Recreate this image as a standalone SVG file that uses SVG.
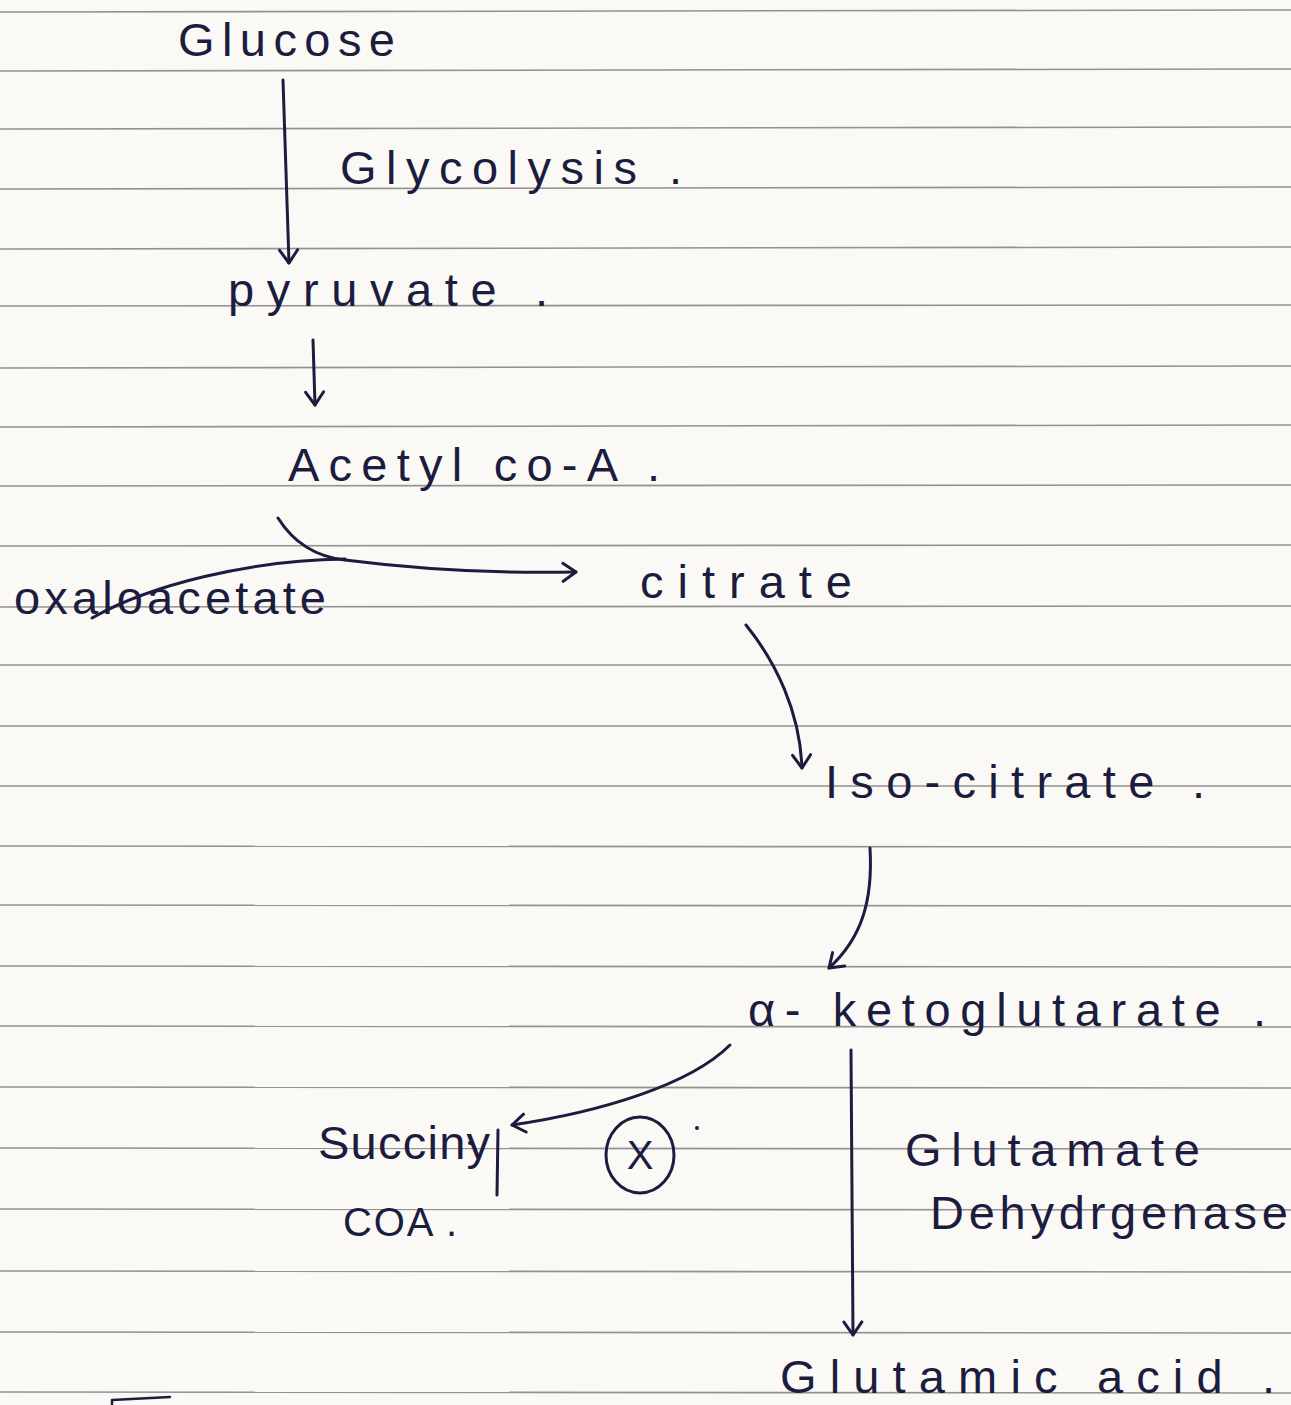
<svg xmlns="http://www.w3.org/2000/svg" width="1291" height="1405" viewBox="0 0 1291 1405">
<defs>
<style>
.paper{fill:#fbf9f6}
.rule{stroke:#6f6f6f;stroke-width:1.6;stroke-opacity:0.75}
.t{font-family:"Liberation Sans","DejaVu Sans",sans-serif;font-size:47px;fill:#1b1c3e}
.ink{fill:none;stroke:#1b1c3e;stroke-width:3;stroke-linecap:round;stroke-linejoin:round}
</style>
<marker id="ah" viewBox="-16 -12 20 24" refX="0" refY="0" markerWidth="20" markerHeight="24" markerUnits="userSpaceOnUse" orient="auto">
<path d="M-13,-9 L0,0 L-13,9" fill="none" stroke="#1b1c3e" stroke-width="3" stroke-linecap="round" stroke-linejoin="round"/>
</marker>
</defs>
<rect class="paper" x="0" y="0" width="1291" height="1405"/>
<g id="rules">
<line class="rule" x1="0" y1="12" x2="1291" y2="10"/>
<line class="rule" x1="0" y1="71" x2="1291" y2="69"/>
<line class="rule" x1="0" y1="129" x2="1291" y2="127"/>
<line class="rule" x1="0" y1="189" x2="1291" y2="187"/>
<line class="rule" x1="0" y1="249" x2="1291" y2="247"/>
<line class="rule" x1="0" y1="306" x2="1291" y2="305"/>
<line class="rule" x1="0" y1="368" x2="1291" y2="366"/>
<line class="rule" x1="0" y1="427" x2="1291" y2="425"/>
<line class="rule" x1="0" y1="486" x2="1291" y2="485"/>
<line class="rule" x1="0" y1="546" x2="1291" y2="545"/>
<line class="rule" x1="0" y1="607" x2="1291" y2="606"/>
<line class="rule" x1="0" y1="665" x2="1291" y2="665"/>
<line class="rule" x1="0" y1="726" x2="1291" y2="726"/>
<line class="rule" x1="0" y1="786" x2="1291" y2="786"/>
<line class="rule" x1="0" y1="846" x2="1291" y2="847"/>
<line class="rule" x1="0" y1="905" x2="1291" y2="906"/>
<line class="rule" x1="0" y1="966" x2="1291" y2="967"/>
<line class="rule" x1="0" y1="1026" x2="1291" y2="1027"/>
<line class="rule" x1="0" y1="1087" x2="1291" y2="1088"/>
<line class="rule" x1="0" y1="1148" x2="1291" y2="1149"/>
<line class="rule" x1="0" y1="1209" x2="1291" y2="1210"/>
<line class="rule" x1="0" y1="1271" x2="1291" y2="1272"/>
<line class="rule" x1="0" y1="1332" x2="1291" y2="1333"/>
<line class="rule" x1="0" y1="1392" x2="1291" y2="1393"/>
</g>
<g id="connectors">
<path class="ink" d="M283,80 L289,263" marker-end="url(#ah)"/>
<path class="ink" d="M313,340 L315,405" marker-end="url(#ah)"/>
<path class="ink" d="M278,518 C295,545 318,557 345,560 C400,567 480,574 576,572" marker-end="url(#ah)"/>
<path class="ink" d="M92,618 C150,585 250,560 345,559"/>
<path class="ink" d="M746,625 C776,662 800,712 802,768" marker-end="url(#ah)"/>
<path class="ink" d="M870,848 C873,900 862,938 829,968" marker-end="url(#ah)"/>
<path class="ink" d="M730,1045 C690,1085 600,1112 512,1125" marker-end="url(#ah)"/>
<path class="ink" d="M851,1050 L853,1335" marker-end="url(#ah)"/>
</g>
<g id="glucose"><text class="t" x="178" y="56" textLength="217" lengthAdjust="spacing">Glucose</text></g>
<g id="glycolysis"><text class="t" x="340" y="184" textLength="342" lengthAdjust="spacing">Glycolysis .</text></g>
<g id="pyruvate"><text class="t" x="228" y="306" textLength="320" lengthAdjust="spacing">pyruvate .</text></g>
<g id="acetyl-coa"><text class="t" x="288" y="481" textLength="372" lengthAdjust="spacing">Acetyl co-A .</text></g>
<g id="oxaloacetate"><text class="t" x="14" y="614" textLength="312" lengthAdjust="spacing">oxaloacetate</text></g>
<g id="citrate"><text class="t" x="640" y="598" textLength="212" lengthAdjust="spacing">citrate</text></g>
<g id="iso-citrate"><text class="t" x="825" y="798" textLength="380" lengthAdjust="spacing">Iso-citrate .</text></g>
<g id="alpha-ketoglutarate"><text class="t" x="748" y="1026" textLength="518" lengthAdjust="spacing">α- ketoglutarate .</text></g>
<g id="succinyl-coa">
<text class="t" x="318" y="1159" textLength="172" lengthAdjust="spacing">Succiny</text>
<path class="ink" d="M498,1130 L497,1195"/>
<circle cx="470" cy="1143" r="2" fill="#1b1c3e"/>
<text class="t" x="343" y="1236" textLength="114" lengthAdjust="spacing" style="font-size:40px">COA .</text>
</g>
<g id="inhibited">
<ellipse class="ink" cx="640" cy="1155" rx="34" ry="38"/>
<text class="t" x="640" y="1169" text-anchor="middle" style="font-size:40px">X</text>
<circle cx="697" cy="1128" r="2" fill="#1b1c3e"/>
</g>
<g id="enzyme">
<text class="t" x="905" y="1166" textLength="295" lengthAdjust="spacing">Glutamate</text>
<text class="t" x="930" y="1229" textLength="358" lengthAdjust="spacing">Dehydrgenase</text>
</g>
<g id="glutamic-acid"><text class="t" x="780" y="1393" textLength="495" lengthAdjust="spacing">Glutamic acid .</text></g>
<path class="ink" d="M112,1405 L112,1400 L170,1397" style="stroke-width:2.5"/>
</svg>
